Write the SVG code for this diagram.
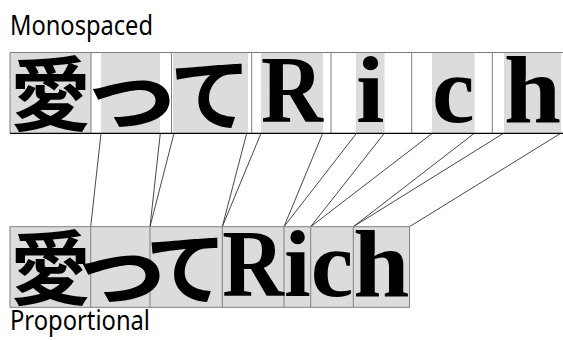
<svg xmlns="http://www.w3.org/2000/svg" width="563" height="340" viewBox="0 0 563 340">
  <style>
    .bg { fill: #ffffff; }
    .glyphbox { fill: #dcdcdc; stroke: none; }
    .cellline { stroke: #808080; stroke-width: 1; fill: none; }
    .baseline { stroke: #000000; stroke-width: 1.2; fill: none; }
    .conn { stroke: #333333; stroke-width: 0.9; fill: none; }
    .cjk { font-family: "Noto Sans CJK JP", "Noto Sans CJK SC", sans-serif; font-weight: 700; font-size: 81px; fill: #000; text-anchor: middle; }
    .lat { font-family: "Liberation Serif", "Times New Roman", serif; font-weight: bold; font-size: 95px; fill: #000; }
    .label { font-family: "Noto Sans", "DejaVu Sans", sans-serif; font-size: 27px; fill: #000; }
  </style>
  <rect class="bg" x="0" y="0" width="563" height="340"/>

  <g id="label-monospaced">
    <text class="label" x="10" y="35" textLength="143" lengthAdjust="spacingAndGlyphs">Monospaced</text>
  </g>

  <g id="monospaced-row">
    <rect class="glyphbox" x="10" y="52.5" width="81" height="80.8"/>
    <rect class="glyphbox" x="101" y="52.5" width="59" height="80.8"/>
    <rect class="glyphbox" x="173" y="52.5" width="75" height="80.8"/>
    <rect class="glyphbox" x="261" y="52.5" width="62" height="80.8"/>
    <rect class="glyphbox" x="356" y="52.5" width="28.5" height="80.8"/>
    <rect class="glyphbox" x="432" y="52.5" width="42.5" height="80.8"/>
    <rect class="glyphbox" x="504" y="52.5" width="57" height="80.8"/>
    <line class="cellline" x1="10" y1="52.5" x2="563" y2="52.5"/>
    <line class="cellline" x1="10" y1="52.5" x2="10" y2="133.3"/>
    <line class="cellline" x1="91" y1="52.5" x2="91" y2="133.3"/>
    <line class="cellline" x1="171.5" y1="52.5" x2="171.5" y2="133.3"/>
    <line class="cellline" x1="251.7" y1="52.5" x2="251.7" y2="133.3"/>
    <line class="cellline" x1="331" y1="52.5" x2="331" y2="133.3"/>
    <line class="cellline" x1="411.7" y1="52.5" x2="411.7" y2="133.3"/>
    <line class="cellline" x1="492.3" y1="52.5" x2="492.3" y2="133.3"/>
    <line class="baseline" x1="10" y1="133.3" x2="563" y2="133.3"/>
    <text class="cjk" x="50.5" y="123.5">愛</text>
    <text class="cjk" x="130.5" y="123.5" transform="translate(130.5 0) scale(1.3 1) translate(-130.5 0)">っ</text>
    <text class="cjk" x="210.5" y="123.5">て</text>
    <text class="lat" x="261" y="122" textLength="62" lengthAdjust="spacingAndGlyphs">R</text>
    <text class="lat" x="356" y="122" textLength="28.5" lengthAdjust="spacingAndGlyphs">i</text>
    <text class="lat" x="432" y="122" textLength="42.5" lengthAdjust="spacingAndGlyphs">c</text>
    <text class="lat" x="504" y="122" textLength="57" lengthAdjust="spacingAndGlyphs">h</text>
  </g>

  <g id="connectors">
    <line class="conn" x1="101" y1="133.3" x2="90.7" y2="226.7"/>
    <line class="conn" x1="160.3" y1="133.3" x2="150" y2="226.7"/>
    <line class="conn" x1="174" y1="133.3" x2="150" y2="226.7"/>
    <line class="conn" x1="246.7" y1="133.3" x2="222.3" y2="226.7"/>
    <line class="conn" x1="261" y1="133.3" x2="222.3" y2="226.7"/>
    <line class="conn" x1="322.7" y1="133.3" x2="284" y2="226.7"/>
    <line class="conn" x1="356.5" y1="133.3" x2="284" y2="226.7"/>
    <line class="conn" x1="384.3" y1="133.3" x2="310.7" y2="226.7"/>
    <line class="conn" x1="432.3" y1="133.3" x2="310.7" y2="226.7"/>
    <line class="conn" x1="474.3" y1="133.3" x2="353.3" y2="226.7"/>
    <line class="conn" x1="503.5" y1="133.3" x2="353.3" y2="226.7"/>
    <line class="conn" x1="560.7" y1="133.3" x2="409.5" y2="226.7"/>
  </g>

  <g id="proportional-row">
    <rect class="glyphbox" x="10" y="226.7" width="399.5" height="80.6"/>
    <rect class="cellline" x="10" y="226.7" width="399.5" height="80.6"/>
    <line class="cellline" x1="90.7" y1="226.7" x2="90.7" y2="307.3"/>
    <line class="cellline" x1="150" y1="226.7" x2="150" y2="307.3"/>
    <line class="cellline" x1="222.3" y1="226.7" x2="222.3" y2="307.3"/>
    <line class="cellline" x1="284" y1="226.7" x2="284" y2="307.3"/>
    <line class="cellline" x1="310.7" y1="226.7" x2="310.7" y2="307.3"/>
    <line class="cellline" x1="353.3" y1="226.7" x2="353.3" y2="307.3"/>
    <text class="cjk" x="50.4" y="297.6">愛</text>
    <text class="cjk" x="120.4" y="297.6" transform="translate(120.4 0) scale(1.3 1) translate(-120.4 0)">っ</text>
    <text class="cjk" x="186.2" y="297.6">て</text>
    <text class="lat" x="222.3" y="296" textLength="61.7" lengthAdjust="spacingAndGlyphs">R</text>
    <text class="lat" x="284" y="296" textLength="26.7" lengthAdjust="spacingAndGlyphs">i</text>
    <text class="lat" x="310.7" y="296" textLength="42.6" lengthAdjust="spacingAndGlyphs">c</text>
    <text class="lat" x="353.3" y="296" textLength="56.2" lengthAdjust="spacingAndGlyphs">h</text>
  </g>

  <g id="label-proportional">
    <text class="label" x="10" y="329.5" textLength="140" lengthAdjust="spacingAndGlyphs">Proportional</text>
  </g>
</svg>
